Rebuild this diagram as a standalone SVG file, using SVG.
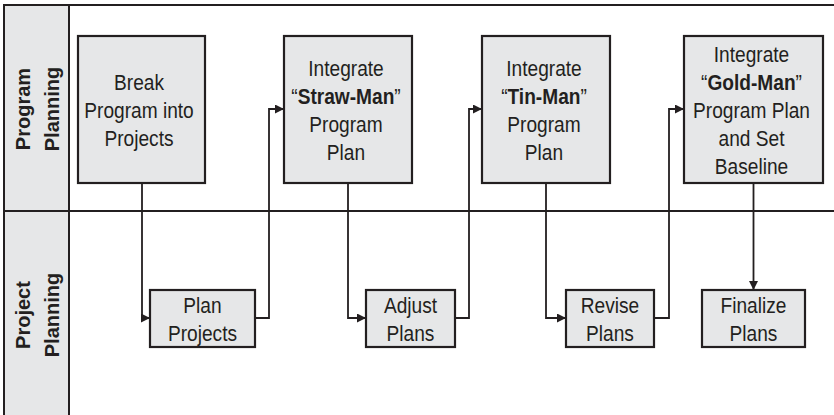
<svg xmlns="http://www.w3.org/2000/svg" width="834" height="415" viewBox="0 0 834 415">
  <style>
    .frame { fill: none; stroke: #231f20; stroke-width: 2; }
    .lanefill { fill: #e6e7e8; stroke: #231f20; stroke-width: 2; }
    .box { fill: #e6e7e8; stroke: #231f20; stroke-width: 2.2; }
    .lbl { font-family: "Liberation Sans", Arial, sans-serif; font-size: 22.5px; fill: #231f20; text-anchor: middle; }
    .lbl tspan.b { font-weight: bold; }
    .lane { font-family: "Liberation Sans", Arial, sans-serif; font-weight: bold; font-size: 20px; fill: #231f20; text-anchor: middle; }
    .conn { fill: none; stroke: #231f20; stroke-width: 1.8; }
  </style>
  <defs>
    <marker id="arrow" markerUnits="userSpaceOnUse" viewBox="0 0 10 10" markerWidth="10" markerHeight="9" refX="10" refY="5" orient="auto">
      <path d="M0,0 L10,5 L0,10 z" fill="#231f20"/>
    </marker>
  </defs>

  <!-- swimlane frame -->
  <g id="lanes">
    <rect class="lanefill" x="4" y="5" width="65" height="412"/>
    <line class="frame" x1="3" y1="5" x2="834" y2="5"/>
    <line class="frame" x1="3" y1="211" x2="834" y2="211"/>
    <text class="lane" transform="translate(37,109) rotate(-90)"><tspan x="0" y="-7">Program</tspan><tspan x="0" y="22">Planning</tspan></text>
    <text class="lane" transform="translate(37,315) rotate(-90)"><tspan x="0" y="-7">Project</tspan><tspan x="0" y="22">Planning</tspan></text>
  </g>

  <!-- connectors -->
  <g id="connectors">
    <path class="conn" d="M142,183 V318 H150" marker-end="url(#arrow)"/>
    <path class="conn" d="M255,318 H269 V109 H284" marker-end="url(#arrow)"/>
    <path class="conn" d="M348,183 V318 H366" marker-end="url(#arrow)"/>
    <path class="conn" d="M455,318 H469 V109 H482" marker-end="url(#arrow)"/>
    <path class="conn" d="M546,183 V318 H566" marker-end="url(#arrow)"/>
    <path class="conn" d="M654,318 H669 V109 H684" marker-end="url(#arrow)"/>
    <path class="conn" d="M753.5,183 V290" marker-end="url(#arrow)"/>
  </g>

  <!-- program planning steps (labels drawn condensed by a horizontal scale) -->
  <g id="break-program">
    <rect class="box" x="78" y="36" width="127" height="147"/>
    <text class="lbl" transform="translate(139 0) scale(0.85 1)"><tspan x="0" y="90">Break</tspan><tspan x="0" y="118">Program into</tspan><tspan x="0" y="146">Projects</tspan></text>
  </g>
  <g id="straw-man">
    <rect class="box" x="284" y="36" width="128" height="147"/>
    <text class="lbl" transform="translate(346 0) scale(0.85 1)"><tspan x="0" y="76">Integrate</tspan><tspan x="0" y="104">“<tspan class="b">Straw-Man</tspan>”</tspan><tspan x="0" y="132">Program</tspan><tspan x="0" y="160">Plan</tspan></text>
  </g>
  <g id="tin-man">
    <rect class="box" x="482" y="36" width="128" height="147"/>
    <text class="lbl" transform="translate(544 0) scale(0.85 1)"><tspan x="0" y="76">Integrate</tspan><tspan x="0" y="104">“<tspan class="b">Tin-Man</tspan>”</tspan><tspan x="0" y="132">Program</tspan><tspan x="0" y="160">Plan</tspan></text>
  </g>
  <g id="gold-man">
    <rect class="box" x="684" y="36" width="139" height="147"/>
    <text class="lbl" transform="translate(751.5 0) scale(0.85 1)"><tspan x="0" y="62">Integrate</tspan><tspan x="0" y="90">“<tspan class="b">Gold-Man</tspan>”</tspan><tspan x="0" y="118">Program Plan</tspan><tspan x="0" y="146">and Set</tspan><tspan x="0" y="174">Baseline</tspan></text>
  </g>

  <!-- project planning steps -->
  <g id="plan-projects">
    <rect class="box" x="150" y="290" width="105" height="57"/>
    <text class="lbl" transform="translate(202.5 0) scale(0.85 1)"><tspan x="0" y="313">Plan</tspan><tspan x="0" y="341.5">Projects</tspan></text>
  </g>
  <g id="adjust-plans">
    <rect class="box" x="366" y="290" width="89" height="57"/>
    <text class="lbl" transform="translate(410.5 0) scale(0.85 1)"><tspan x="0" y="313">Adjust</tspan><tspan x="0" y="341.5">Plans</tspan></text>
  </g>
  <g id="revise-plans">
    <rect class="box" x="566" y="290" width="88" height="57"/>
    <text class="lbl" transform="translate(610 0) scale(0.85 1)"><tspan x="0" y="313">Revise</tspan><tspan x="0" y="341.5">Plans</tspan></text>
  </g>
  <g id="finalize-plans">
    <rect class="box" x="702" y="290" width="103" height="57"/>
    <text class="lbl" transform="translate(753.5 0) scale(0.85 1)"><tspan x="0" y="313">Finalize</tspan><tspan x="0" y="341.5">Plans</tspan></text>
  </g>
</svg>
